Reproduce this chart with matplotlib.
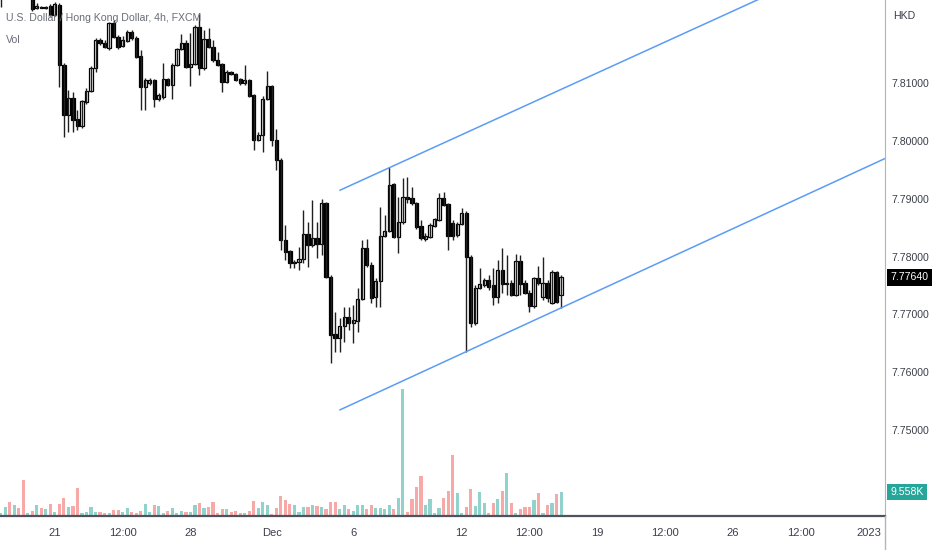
import numpy as np
import matplotlib.pyplot as plt
from matplotlib.lines import Line2D

plt.rcParams['font.family'] = ['Liberation Sans', 'DejaVu Sans']

# USD/HKD 4h candles (FXCM)
open_ = [7.8258, 7.8265, 7.8279, 7.8268, 7.8282, 7.8272, 7.8254, 7.8261, 7.8230, 7.8232,
         7.8230, 7.8234, 7.8218, 7.8235, 7.8132, 7.8045, 7.8074, 7.8038, 7.8026, 7.8068,
         7.8087, 7.8126, 7.8175, 7.8170, 7.8161, 7.8204, 7.8180, 7.8164, 7.8173, 7.8189,
         7.8178, 7.8147, 7.8093, 7.8100, 7.8106, 7.8073, 7.8076, 7.8107, 7.8097, 7.8132,
         7.8159, 7.8170, 7.8128, 7.8133, 7.8197, 7.8126, 7.8177, 7.8163, 7.8140, 7.8133,
         7.8102, 7.8119, 7.8116, 7.8107, 7.8100, 7.8106, 7.8080, 7.8002, 7.8010, 7.8073,
         7.8095, 7.8002, 7.7967, 7.7829, 7.7810, 7.7789, 7.7791, 7.7796, 7.7839, 7.7820,
         7.7832, 7.7822, 7.7893, 7.7765, 7.7666, 7.7659, 7.7680, 7.7696, 7.7685, 7.7689,
         7.7727, 7.7815, 7.7786, 7.7730, 7.7758, 7.7836, 7.7844, 7.7926, 7.7834, 7.7860,
         7.7903, 7.7901, 7.7893, 7.7853, 7.7831, 7.7834, 7.7853, 7.7863, 7.7901, 7.7891,
         7.7858, 7.7837, 7.7856, 7.7876, 7.7799, 7.7685, 7.7746, 7.7751, 7.7760, 7.7751,
         7.7730, 7.7777, 7.7753, 7.7754, 7.7734, 7.7792, 7.7754, 7.7737, 7.7715, 7.7763,
         7.7730, 7.7754, 7.7720, 7.7773, 7.7734]
high = [7.8279, 7.8287, 7.8286, 7.8292, 7.8289, 7.8279, 7.8268, 7.8268, 7.8239, 7.8234,
        7.8234, 7.8237, 7.8241, 7.8239, 7.8135, 7.8088, 7.8085, 7.8054, 7.8071, 7.8092,
        7.8130, 7.8178, 7.8178, 7.8175, 7.8206, 7.8209, 7.8183, 7.8182, 7.8192, 7.8192,
        7.8182, 7.8158, 7.8109, 7.8109, 7.8107, 7.8083, 7.8135, 7.8109, 7.8135, 7.8161,
        7.8185, 7.8175, 7.8187, 7.8201, 7.8220, 7.8192, 7.8196, 7.8175, 7.8154, 7.8135,
        7.8123, 7.8121, 7.8118, 7.8109, 7.8132, 7.8107, 7.8081, 7.8016, 7.8078, 7.8121,
        7.8097, 7.8021, 7.7971, 7.7855, 7.7811, 7.7794, 7.7817, 7.7881, 7.7860, 7.7898,
        7.7860, 7.7900, 7.7895, 7.7768, 7.7704, 7.7694, 7.7713, 7.7713, 7.7716, 7.7746,
        7.7829, 7.7831, 7.7791, 7.7763, 7.7886, 7.7872, 7.7955, 7.7927, 7.7903, 7.7936,
        7.7938, 7.7920, 7.7895, 7.7863, 7.7841, 7.7858, 7.7867, 7.7910, 7.7912, 7.7893,
        7.7863, 7.7860, 7.7884, 7.7879, 7.7803, 7.7751, 7.7780, 7.7763, 7.7768, 7.7780,
        7.7794, 7.7815, 7.7803, 7.7760, 7.7805, 7.7803, 7.7760, 7.7742, 7.7765, 7.7784,
        7.7799, 7.7760, 7.7777, 7.7775, 7.7768]
low = [7.8232, 7.8258, 7.8261, 7.8265, 7.8265, 7.8249, 7.8247, 7.8225, 7.8228, 7.8230,
       7.8228, 7.8216, 7.8216, 7.8093, 7.8007, 7.8016, 7.8016, 7.8019, 7.8023, 7.8064,
       7.8085, 7.8119, 7.8166, 7.8161, 7.8158, 7.8178, 7.8159, 7.8163, 7.8171, 7.8175,
       7.8144, 7.8054, 7.8054, 7.8097, 7.8059, 7.8069, 7.8073, 7.8095, 7.8073, 7.8130,
       7.8158, 7.8126, 7.8095, 7.8132, 7.8114, 7.8123, 7.8161, 7.8137, 7.8130, 7.8085,
       7.8100, 7.8114, 7.8104, 7.8097, 7.8097, 7.8076, 7.7985, 7.8000, 7.7981, 7.8071,
       7.7991, 7.7950, 7.7811, 7.7794, 7.7780, 7.7780, 7.7777, 7.7789, 7.7782, 7.7817,
       7.7798, 7.7803, 7.7763, 7.7616, 7.7635, 7.7635, 7.7652, 7.7673, 7.7651, 7.7670,
       7.7725, 7.7782, 7.7720, 7.7713, 7.7713, 7.7834, 7.7843, 7.7832, 7.7806, 7.7856,
       7.7893, 7.7889, 7.7848, 7.7829, 7.7827, 7.7832, 7.7851, 7.7862, 7.7888, 7.7811,
       7.7829, 7.7834, 7.7855, 7.7635, 7.7678, 7.7682, 7.7744, 7.7747, 7.7742, 7.7716,
       7.7720, 7.7737, 7.7734, 7.7732, 7.7732, 7.7734, 7.7735, 7.7704, 7.7711, 7.7751,
       7.7725, 7.7722, 7.7718, 7.7720, 7.7711]
close = [7.8265, 7.8279, 7.8268, 7.8282, 7.8272, 7.8254, 7.8261, 7.8228, 7.8234, 7.8230,
         7.8232, 7.8218, 7.8237, 7.8132, 7.8045, 7.8074, 7.8036, 7.8026, 7.8069, 7.8087,
         7.8126, 7.8175, 7.8170, 7.8163, 7.8204, 7.8180, 7.8163, 7.8175, 7.8189, 7.8178,
         7.8145, 7.8093, 7.8106, 7.8106, 7.8073, 7.8080, 7.8107, 7.8097, 7.8132, 7.8159,
         7.8170, 7.8128, 7.8133, 7.8197, 7.8126, 7.8177, 7.8163, 7.8140, 7.8132, 7.8102,
         7.8119, 7.8116, 7.8106, 7.8100, 7.8106, 7.8078, 7.8002, 7.8010, 7.8073, 7.8095,
         7.8002, 7.7967, 7.7829, 7.7808, 7.7789, 7.7791, 7.7796, 7.7839, 7.7820, 7.7832,
         7.7822, 7.7893, 7.7765, 7.7664, 7.7659, 7.7680, 7.7696, 7.7685, 7.7690, 7.7727,
         7.7815, 7.7786, 7.7728, 7.7758, 7.7836, 7.7844, 7.7924, 7.7834, 7.7860, 7.7903,
         7.7900, 7.7893, 7.7851, 7.7832, 7.7836, 7.7855, 7.7865, 7.7901, 7.7889, 7.7836,
         7.7836, 7.7856, 7.7876, 7.7799, 7.7685, 7.7746, 7.7753, 7.7760, 7.7747, 7.7730,
         7.7777, 7.7753, 7.7754, 7.7734, 7.7792, 7.7753, 7.7737, 7.7715, 7.7763, 7.7754,
         7.7754, 7.7728, 7.7773, 7.7722, 7.7764]
# volume in thousands
volume_k = [1.2, 3.6, 5.6, 4.4, 3.2, 14.3, 1.2, 2.0, 4.4, 3.2,
            2.8, 4.8, 1.6, 4.8, 7.2, 3.6, 4.0, 11.1, 1.2, 1.6,
            3.6, 1.6, 1.6, 1.2, 1.2, 2.4, 2.4, 1.6, 3.2, 1.6,
            1.2, 2.0, 4.8, 1.6, 4.4, 4.0, 1.2, 2.0, 3.2, 1.2,
            2.0, 1.6, 1.6, 4.4, 5.2, 3.2, 3.6, 5.6, 1.2, 2.8,
            2.8, 1.6, 2.0, 1.2, 1.2, 2.0, 6.0, 3.2, 5.6, 4.4,
            0.8, 3.2, 8.0, 6.4, 4.8, 4.4, 1.6, 3.6, 3.6, 4.4,
            4.0, 3.6, 2.8, 5.6, 5.6, 2.8, 4.4, 2.8, 2.0, 4.4,
            4.4, 2.8, 4.4, 3.2, 3.2, 2.8, 4.4, 2.8, 7.2, 50.5,
            1.6, 6.8, 11.5, 15.9, 4.4, 6.8, 1.2, 3.2, 7.2, 10.0,
            24.3, 9.2, 1.2, 3.6, 10.7, 4.0, 9.6, 5.2, 1.2, 5.2,
            6.8, 10.0, 17.1, 5.2, 1.2, 2.8, 3.6, 3.6, 6.4, 9.2,
            1.2, 4.4, 5.2, 8.8, 9.558]

# time axis labels (bar index -> label)
tick_pos = [12, 27, 42, 60, 78, 102, 117, 132, 147, 162, 177, 192]
tick_labels = ['21', '12:00', '28', 'Dec', '6', '12', '12:00', '19', '12:00', '26', '12:00', '2023']
price_ticks = [7.75, 7.76, 7.77, 7.78, 7.79, 7.80, 7.81]

# parallel channel drawn on the chart: (bar index, price) end points
upper_x = [75.1, 196.0]
upper_y = [7.7915, 7.8346]
lower_x = [75.1, 196.0]
lower_y = [7.7535, 7.7971]

last_price = 7.7764

o = np.array(open_)
h = np.array(high)
l = np.array(low)
c = np.array(close)
x = np.arange(len(o))
up = c >= o

fig = plt.figure(figsize=(9.32, 5.5), dpi=100)
ax = fig.add_axes([0, 34 / 550, 885 / 932, 516 / 550])
axv = ax.twinx()

# volume underneath the candles
vol_col = np.where(up, '#92d2cc', '#f7a9a7')
axv.bar(x, volume_k, width=0.7, color=vol_col, linewidth=0)
axv.set_ylim(0, 205)
axv.axis('off')
ax.set_zorder(axv.get_zorder() + 1)
ax.patch.set_visible(False)

# candles
ax.vlines(x, l, h, color='#202020', linewidth=1)
ax.bar(x, np.maximum(np.abs(c - o), 0.00002), bottom=np.minimum(o, c), width=0.72,
       color=np.where(up, 'white', 'black'), edgecolor='black', linewidth=0.9)

ax.plot(upper_x, upper_y, color='#5b9cf6', linewidth=1.1)
ax.plot(lower_x, lower_y, color='#5b9cf6', linewidth=1.1)

ax.set_xlim(-0.133, 195.66)
ax.set_ylim(7.73513, 7.8244)

ax.yaxis.tick_right()
ax.set_yticks(price_ticks)
ax.set_yticklabels([f'{p:.5f}' for p in price_ticks])
ax.tick_params(axis='y', length=0, pad=5, labelsize=7.6, colors='#3c3f4a')
ax.set_xticks(tick_pos)
ax.set_xticklabels(tick_labels)
ax.tick_params(axis='x', length=0, pad=9, labelsize=8, colors='#3c3f4a')

for s in ['left', 'top']:
    ax.spines[s].set_visible(False)
ax.spines['right'].set_color('#b2b5be')
ax.spines['bottom'].set_color('#50535e')
ax.spines['bottom'].set_linewidth(1.6)
fig.add_artist(Line2D([885 / 932, 885 / 932], [0, 34 / 550], color='#b2b5be', linewidth=1))

# right-hand labels
ax.annotate(f'{last_price:.5f}', xy=(1, last_price), xycoords=('axes fraction', 'data'),
            xytext=(4, 0), textcoords='offset points', ha='left', va='center',
            color='white', fontsize=7.6, annotation_clip=False,
            bbox=dict(boxstyle='square,pad=0.3', fc='black', ec='none'))
axv.annotate(f'{volume_k[-1]:.3f}K', xy=(1, volume_k[-1]), xycoords=('axes fraction', 'data'),
             xytext=(4, 0), textcoords='offset points', ha='left', va='center',
             color='white', fontsize=7.6, annotation_clip=False,
             bbox=dict(boxstyle='square,pad=0.3', fc='#26a69a', ec='none'))
fig.text(893 / 932, 1 - 16 / 550, 'HKD', ha='left', va='center', fontsize=7.6, color='#3c3f4a')

fig.text(6 / 932, 1 - 18 / 550, 'U.S. Dollar / Hong Kong Dollar, 4h, FXCM', ha='left', va='center',
         fontsize=7.6, color='#6a6d78')
fig.text(6 / 932, 1 - 40 / 550, 'Vol', ha='left', va='center', fontsize=7.6, color='#6a6d78')

fig.savefig('out.png', dpi=100, facecolor='white')
